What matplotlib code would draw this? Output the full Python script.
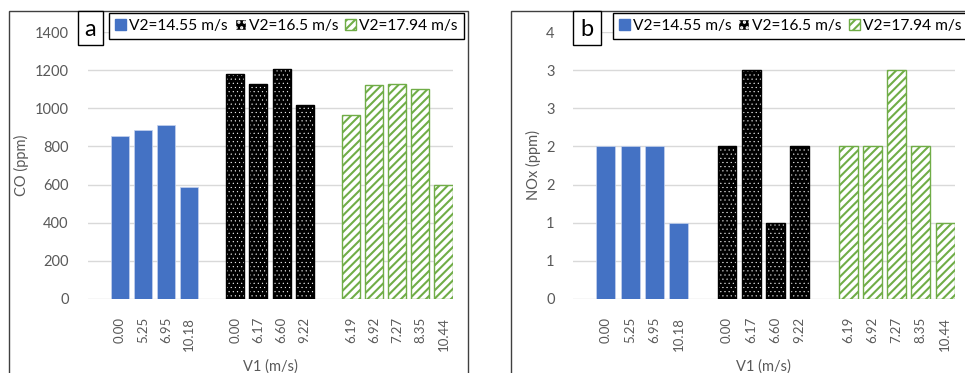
import numpy as np
import matplotlib
matplotlib.use("Agg")
import matplotlib.pyplot as plt
from matplotlib.patches import Rectangle, Patch
from matplotlib.ticker import FuncFormatter

plt.rcParams['font.family'] = ['Lato', 'DejaVu Sans']

# Data
series_labels = ['V2=14.55 m/s', 'V2=16.5 m/s', 'V2=17.94 m/s']
v1_1455 = ['0.00', '5.25', '6.95', '10.18']
v1_165 = ['0.00', '6.17', '6.60', '9.22']
v1_1794 = ['6.19', '6.92', '7.27', '8.35', '10.44']
co_1455 = [855, 885, 910, 585]
co_165 = [1180, 1125, 1205, 1015]
co_1794 = [965, 1120, 1125, 1100, 600]
nox_1455 = [2, 2, 2, 1]
nox_165 = [2, 3, 1, 2]
nox_1794 = [2, 2, 3, 2, 1]

W, H = 965, 373
fig = plt.figure(figsize=(W / 100, H / 100), dpi=100)

GRAY = '#595959'
BLUE = '#4472C4'
GREEN = '#70AD47'


def fx(x):
    return x / W


def fy(y):
    return 1 - y / H


# x positions: one empty slot between groups
groups = [v1_1455, v1_165, v1_1794]
positions = []
start = 0
for g in groups:
    positions.append(np.arange(start, start + len(g)))
    start += len(g) + 1


def draw_bars(ax, vals):
    w = 0.78
    ax.bar(positions[0], vals[0], width=w, color=BLUE, edgecolor='#c5d3ee', linewidth=0.5, zorder=3)
    plt.rcParams['hatch.linewidth'] = 0.3
    ax.bar(positions[1], vals[1], width=w, color='black', edgecolor='white', hatch='....', linewidth=0, zorder=3)
    ax.bar(positions[1], vals[1], width=w, color='none', edgecolor='black', linewidth=1, zorder=4)
    plt.rcParams['hatch.linewidth'] = 1.5
    ax.bar(positions[2], vals[2], width=w, color='white', edgecolor=GREEN, hatch='////', linewidth=1, zorder=3)
    ax.set_xticks(np.concatenate(positions))
    ax.set_xticklabels(v1_1455 + v1_165 + v1_1794, rotation=90, fontsize=9.5, color=GRAY)
    ax.set_xlim(-1.37, 14.41)
    ax.tick_params(axis='x', length=0, pad=13)
    ax.tick_params(axis='y', length=0, labelsize=10.5, labelcolor=GRAY)
    for s in ax.spines.values():
        s.set_visible(False)
    ax.yaxis.grid(True, color='#d9d9d9', linewidth=1, zorder=0)
    ax.set_axisbelow(True)
    ax.set_xlabel('V1 (m/s)', fontsize=10.5, color=GRAY, labelpad=6)


def legend_handles():
    plt.rcParams['hatch.linewidth'] = 0.3
    black = Patch(facecolor='black', edgecolor='white', hatch='...')
    plt.rcParams['hatch.linewidth'] = 1.5
    green = Patch(facecolor='white', edgecolor=GREEN, hatch='////')
    return [Patch(facecolor=BLUE, edgecolor=BLUE), black, green]


def panel(left, right, frame_left, letter_box, letter, legend_left, vals, yticks, fmt, ylabel, ypad):
    top, bottom = 32, 299
    ax = fig.add_axes([fx(left), fy(bottom), fx(right - left), (bottom - top) / H])
    draw_bars(ax, vals)
    ax.set_ylim(yticks[0], yticks[-1])
    ax.set_yticks(yticks)
    ax.yaxis.set_major_formatter(FuncFormatter(fmt))
    ax.tick_params(axis='y', pad=ypad)
    ax.set_ylabel(ylabel, fontsize=10.5, color=GRAY, labelpad=4)

    # chart frame
    fig.add_artist(Rectangle((fx(frame_left), fy(H + 5)), fx(459), fy(11) - fy(H + 5),
                             transform=fig.transFigure, fill=False, edgecolor='#404040', linewidth=1))
    # letter box
    bx0, bx1 = letter_box
    fig.add_artist(Rectangle((fx(bx0), fy(45)), fx(bx1 - bx0), fy(11) - fy(45),
                             transform=fig.transFigure, facecolor='white', edgecolor='black',
                             linewidth=1, zorder=5))
    fig.text(fx((bx0 + bx1) / 2), fy(29), letter, ha='center', va='center', fontsize=17, zorder=6)

    leg = ax.legend(legend_handles(), series_labels, ncol=3, loc='upper left',
                    bbox_to_anchor=(fx(legend_left), fy(12.7)), bbox_transform=fig.transFigure,
                    fontsize=11.2, frameon=True, fancybox=False, edgecolor='black',
                    framealpha=1, handlelength=0.7, handleheight=0.7, handletextpad=0.2,
                    columnspacing=0.45, borderpad=0.38, borderaxespad=0)
    leg.get_frame().set_linewidth(1)
    leg.set_zorder(5)
    return ax


def co_fmt(v, pos):
    return f'{v:.0f}'


def nox_fmt(v, pos):
    return str(int(np.floor(v + 0.5)))


panel(88, 453, 9, (78, 103), 'a', 109.3, [co_1455, co_165, co_1794],
      np.arange(0, 1401, 200), co_fmt, 'CO (ppm)', 14)
panel(572.7, 955, 511, (573.3, 600.7), 'b', 612.7, [nox_1455, nox_165, nox_1794],
      np.arange(0, 3.51, 0.5), nox_fmt, 'NOx (ppm)', 13)

fig.savefig('out.png', dpi=100)
